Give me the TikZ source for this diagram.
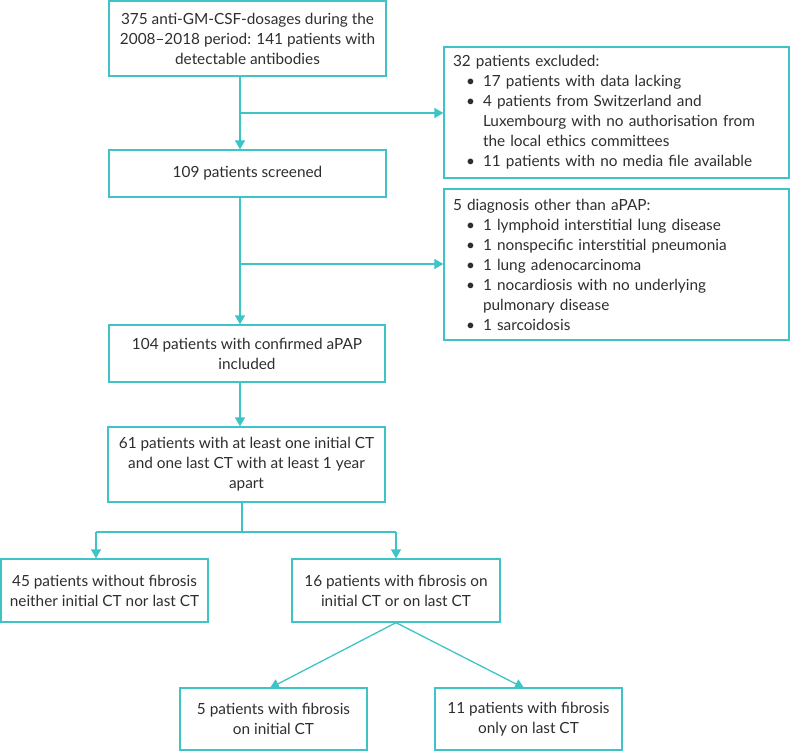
\documentclass[tikz,border=0pt]{standalone}
\usepackage{fontspec}
\setmainfont{Lato}
\usetikzlibrary{arrows.meta}
\definecolor{tealline}{HTML}{3EC3C7}
\definecolor{txtgray}{HTML}{2E2E2E}
\newcommand\myitem[1]{\makebox[30pt][l]{\hspace*{13pt}•}#1}
\newcommand\mycont[1]{\hspace*{30pt}#1}
\begin{document}
\begin{tikzpicture}[x=1pt,y=-1pt,
  box/.style={draw=tealline, line width=1.3pt, inner sep=0pt, text=txtgray, align=center, font=\fontsize{15.35}{20}\selectfont},
  lbox/.style={box, align=left, inner xsep=9pt, text width=327pt},
  conn/.style={draw=tealline, line width=1.3pt},
  arr/.style={conn, -{Triangle[length=9pt,width=10pt]}}]
\useasboundingbox (0,0) rectangle (791,751);
\node[box, minimum width=277pt, minimum height=75pt] (b1) at (247.5,38.5) {375 anti-GM-CSF-dosages during the\\2008--2018 period: 141 patients with\\detectable antibodies};
\node[box, minimum width=277pt, minimum height=47pt] (b2) at (247.5,173.5) {109 patients screened};
\node[box, minimum width=276pt, minimum height=57pt] (b3) at (247,353.5) {104 patients with confirmed aPAP\\included};
\node[box, minimum width=277pt, minimum height=75pt] (b4) at (246.5,464.5) {61 patients with at least one initial CT\\and one last CT with at least 1 year\\apart};
\node[box, minimum width=207pt, minimum height=63pt] (b5) at (104.5,590.5) {45 patients without fibrosis\\neither initial CT nor last CT};
\node[box, minimum width=208pt, minimum height=63pt] (b6) at (396,590.5) {16 patients with fibrosis on\\initial CT or on last CT};
\node[box, minimum width=187pt, minimum height=62pt] (b7) at (273.5,719) {5 patients with fibrosis\\on initial CT};
\node[box, minimum width=187pt, minimum height=62pt] (b8) at (528.5,719) {11 patients with fibrosis\\only on last CT};
\node[lbox, minimum height=131pt] (e1) at (616.5,112.5) {32 patients excluded:\\
\myitem{17 patients with data lacking}\\
\myitem{4 patients from Switzerland and}\\
\mycont{Luxembourg with no authorisation from}\\
\mycont{the local ethics committees}\\
\myitem{11 patients with no media file available}};
\node[lbox, minimum height=151pt] (e2) at (616.5,264.5) {5 diagnosis other than aPAP:\\
\myitem{1 lymphoid interstitial lung disease}\\
\myitem{1 nonspecific interstitial pneumonia}\\
\myitem{1 lung adenocarcinoma}\\
\myitem{1 nocardiosis with no underlying}\\
\mycont{pulmonary disease}\\
\myitem{1 sarcoidosis}};
\coordinate (s1) at (240,113);
\coordinate (s2) at (240,264);
\coordinate (s3) at (242,532);
\coordinate (l) at (96,532);
\coordinate (r) at (396,532);
\coordinate (t7) at (270,688);
\coordinate (t8) at (524,688);
\draw[arr] (b1.south -| s1) -- (b2.north -| s1);
\draw[arr] (s1) -- (e1.west |- s1);
\draw[arr] (b2.south -| s2) -- (b3.north -| s2);
\draw[arr] (s2) -- (e2.west |- s2);
\draw[arr] (b3.south -| s2) -- (b4.north -| s2);
\draw[conn] (b4.south -| s3) -- (s3);
\draw[conn] (l) -- (r);
\draw[arr] (l) -- (b5.north -| l);
\draw[arr] (r) -- (b6.north -| r);
\draw[arr] (b6.south) -- (t7);
\draw[arr] (b6.south) -- (t8);
\end{tikzpicture}
\end{document}
